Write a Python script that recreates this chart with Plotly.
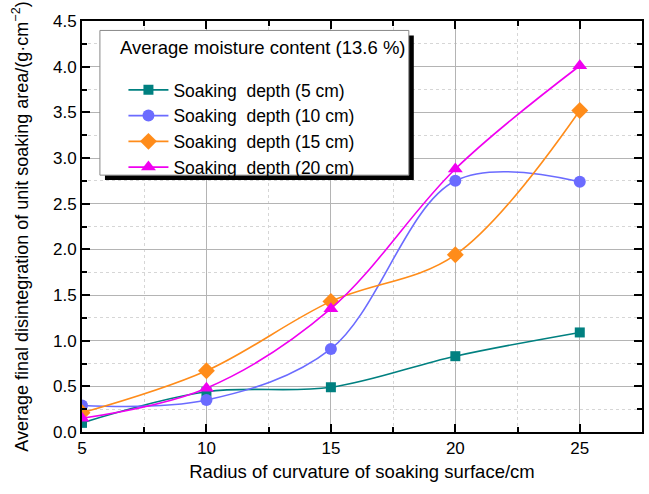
import plotly.graph_objects as go

radius = [5, 10, 15, 20, 25]
depth5 = [0.10, 0.44, 0.49, 0.83, 1.09]
depth10 = [0.29, 0.35, 0.91, 2.75, 2.74]
depth15 = [0.21, 0.67, 1.43, 1.94, 3.52]
depth20 = [0.15, 0.48, 1.35, 2.88, 4.01]

names = ["Soaking\u00a0\u00a0depth (5 cm)", "Soaking\u00a0\u00a0depth (10 cm)",
         "Soaking\u00a0\u00a0depth (15 cm)", "Soaking\u00a0\u00a0depth (20 cm)"]
series = [depth5, depth10, depth15, depth20]
colors = ["#008080", "#6b6bff", "#ff8c1a", "#f000f0"]
symbols = ["square", "circle", "diamond", "triangle-up"]
sizes = [10, 12, 13, 13]

FONT = "Liberation Sans, Arial, sans-serif"

fig = go.Figure()
for n, s, c, sym, sz in zip(names, series, colors, symbols, sizes):
    fig.add_trace(go.Scatter(
        x=radius, y=s, name=n, mode="lines+markers",
        line=dict(color=c, width=1.6, shape="spline", smoothing=1.0),
        marker=dict(color=c, symbol=sym, size=sz),
    ))

# legend box with shadow
fig.add_shape(type="rect", xref="paper", yref="paper",
              x0=0.041, x1=0.5925, y0=0.613, y1=0.965,
              fillcolor="black", line=dict(width=0), layer="above")
fig.add_shape(type="rect", xref="paper", yref="paper",
              x0=0.032, x1=0.5836, y0=0.625, y1=0.977,
              fillcolor="white", line=dict(color="#888888", width=1), layer="above")
fig.add_annotation(text="Average moisture content (13.6 %)", xref="paper", yref="paper",
                   x=0.064, y=0.935, xanchor="left", yanchor="middle", showarrow=False,
                   font=dict(family=FONT, size=18.5, color="black"))

axis_common = dict(
    showline=True, linecolor="black", linewidth=2, mirror="ticks",
    ticks="inside", ticklen=8, tickwidth=2, tickcolor="black",
    showgrid=True, gridcolor="#b4b4b4", gridwidth=1,
    zeroline=False,
    tickfont=dict(family=FONT, size=17, color="black"),
)

fig.update_xaxes(
    range=[5, 27.5], tickvals=[5, 10, 15, 20, 25],
    minor=dict(tickvals=[7.5, 12.5, 17.5, 22.5], ticks="inside", ticklen=5, tickwidth=1.5,
               tickcolor="black", showgrid=True, gridcolor="#d6d6d6", griddash="dot"),
    title=dict(text="Radius of curvature of soaking surface/cm",
               font=dict(family=FONT, size=18.5, color="black"), standoff=8),
    **axis_common,
)
fig.update_yaxes(
    range=[0, 4.5], tickvals=[0, 0.5, 1, 1.5, 2, 2.5, 3, 3.5, 4, 4.5],
    ticktext=["0.0", "0.5", "1.0", "1.5", "2.0", "2.5", "3.0", "3.5", "4.0", "4.5"],
    minor=dict(tickvals=[0.25, 0.75, 1.25, 1.75, 2.25, 2.75, 3.25, 3.75, 4.25],
               ticks="inside", ticklen=5, tickwidth=1.5, tickcolor="black",
               showgrid=True, gridcolor="#d6d6d6", griddash="dot"),
    title=dict(text="Average final disintegration of unit soaking area/(g·cm<sup>−2</sup>)",
               font=dict(family=FONT, size=18, color="black"), standoff=20),
    **axis_common,
)

fig.update_layout(
    width=649, height=494,
    margin=dict(l=82, r=5, t=21, b=62),
    paper_bgcolor="white", plot_bgcolor="white",
    showlegend=True,
    legend=dict(x=0.074, y=0.876, xanchor="left", yanchor="top",
                bgcolor="rgba(0,0,0,0)", borderwidth=0,
                font=dict(family=FONT, size=17.5, color="black"),
                tracegroupgap=0, itemwidth=40),
    font=dict(family=FONT),
)

fig.write_html("out.html")
